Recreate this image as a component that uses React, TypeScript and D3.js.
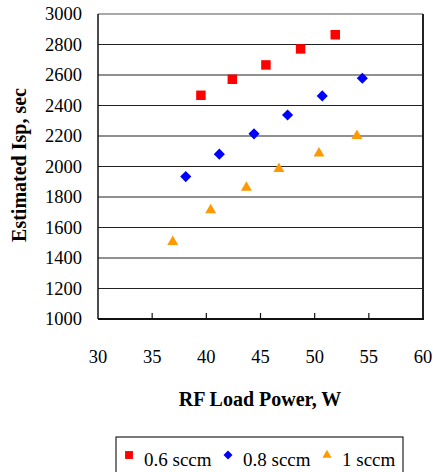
import { useEffect, useRef } from "react";
import * as d3 from "d3";

const xTicks = [30, 35, 40, 45, 50, 55, 60];
const yTicks = [1000, 1200, 1400, 1600, 1800, 2000, 2200, 2400, 2600, 2800, 3000];

const seriesNames = ["0.6 sccm", "0.8 sccm", "1 sccm"];
const seriesColors = ["#ff0000", "#0000ff", "#ff9900"];

const power06 = [39.5, 42.4, 45.5, 48.7, 51.9];
const isp06 = [2467, 2572, 2666, 2771, 2864];

const power08 = [38.1, 41.2, 44.4, 47.5, 50.7, 54.4];
const isp08 = [1934, 2081, 2214, 2338, 2463, 2579];

const power10 = [36.9, 40.4, 43.7, 46.7, 50.4, 53.9];
const isp10 = [1506, 1714, 1862, 1985, 2087, 2201];

const font = "Liberation Serif, Times New Roman, serif";

export default function App() {
  const ref = useRef<SVGSVGElement>(null);

  useEffect(() => {
    const svg = d3.select(ref.current);
    svg.selectAll("*").remove();

    const left = 98;
    const right = 423;
    const top = 14;
    const bottom = 319;

    const x = d3.scaleLinear().domain([30, 60]).range([left, right]);
    const y = d3.scaleLinear().domain([1000, 3000]).range([bottom, top]);

    // gridlines
    svg
      .append("g")
      .selectAll("line")
      .data(yTicks.filter((t) => t > 1000))
      .join("line")
      .attr("x1", left)
      .attr("x2", right)
      .attr("y1", (d) => y(d))
      .attr("y2", (d) => y(d))
      .attr("stroke", (d) => (d === 3000 ? "#555" : "#222"))
      .attr("stroke-width", 1.2);

    // frame
    svg
      .append("line")
      .attr("x1", right)
      .attr("x2", right)
      .attr("y1", top)
      .attr("y2", bottom)
      .attr("stroke", "#222")
      .attr("stroke-width", 2);
    svg
      .append("line")
      .attr("x1", left)
      .attr("x2", left)
      .attr("y1", top)
      .attr("y2", bottom)
      .attr("stroke", "#111")
      .attr("stroke-width", 1.5);
    svg
      .append("line")
      .attr("x1", left)
      .attr("x2", right + 1)
      .attr("y1", bottom)
      .attr("y2", bottom)
      .attr("stroke", "#111")
      .attr("stroke-width", 2);

    // inward x ticks
    svg
      .append("g")
      .selectAll("line")
      .data(xTicks.slice(1, -1))
      .join("line")
      .attr("x1", (d) => x(d))
      .attr("x2", (d) => x(d))
      .attr("y1", bottom)
      .attr("y2", bottom - 6)
      .attr("stroke", "#111")
      .attr("stroke-width", 1.2);

    // tick labels
    svg
      .append("g")
      .selectAll("text")
      .data(yTicks)
      .join("text")
      .attr("x", 82)
      .attr("y", (d) => y(d) + 6)
      .attr("text-anchor", "end")
      .attr("font-family", font)
      .attr("font-size", 18.5)
      .text((d) => d);
    svg
      .append("g")
      .selectAll("text")
      .data(xTicks)
      .join("text")
      .attr("x", (d) => x(d))
      .attr("y", 363)
      .attr("text-anchor", "middle")
      .attr("font-family", font)
      .attr("font-size", 18.5)
      .text((d) => d);

    // axis titles
    svg
      .append("text")
      .attr("x", 260)
      .attr("y", 406)
      .attr("text-anchor", "middle")
      .attr("font-family", font)
      .attr("font-weight", "bold")
      .attr("font-size", 20)
      .text("RF Load Power, W");
    svg
      .append("text")
      .attr("transform", "translate(26,165) rotate(-90)")
      .attr("text-anchor", "middle")
      .attr("font-family", font)
      .attr("font-weight", "bold")
      .attr("font-size", 20)
      .text("Estimated Isp, sec");

    // square, diamond (rotated square), triangle
    const shapes = [d3.symbolSquare, d3.symbolSquare, d3.symbolTriangle];
    const rot = [0, 45, 0];
    const sizes = [90, 62, 52];
    const legendSizes = [62, 40, 36];
    const series = [
      { xs: power06, ys: isp06 },
      { xs: power08, ys: isp08 },
      { xs: power10, ys: isp10 },
    ];

    series.forEach((s, i) => {
      svg
        .append("g")
        .selectAll("path")
        .data(s.xs.map((v, j) => [v, s.ys[j]]))
        .join("path")
        .attr(
          "transform",
          (d) => `translate(${x(d[0])},${y(d[1])}) rotate(${rot[i]})`
        )
        .attr("d", d3.symbol().type(shapes[i]).size(sizes[i])())
        .attr("fill", seriesColors[i]);
    });

    // legend
    const lg = svg.append("g");
    lg.append("rect")
      .attr("x", 116)
      .attr("y", 437)
      .attr("width", 287)
      .attr("height", 50)
      .attr("fill", "white")
      .attr("stroke", "#222")
      .attr("stroke-width", 1.2);
    const itemX = [129, 228, 327];
    seriesNames.forEach((name, i) => {
      lg.append("path")
        .attr("transform", `translate(${itemX[i]},455) rotate(${rot[i]})`)
        .attr("d", d3.symbol().type(shapes[i]).size(legendSizes[i])())
        .attr("fill", seriesColors[i]);
      lg.append("text")
        .attr("x", itemX[i] + 15)
        .attr("y", 466)
        .attr("font-family", font)
        .attr("font-size", 19)
        .text(name);
    });
  }, []);

  return (
    <svg
      ref={ref}
      width={433}
      height={472}
      style={{ position: "absolute", left: 0, top: 0, background: "white" }}
    />
  );
}
